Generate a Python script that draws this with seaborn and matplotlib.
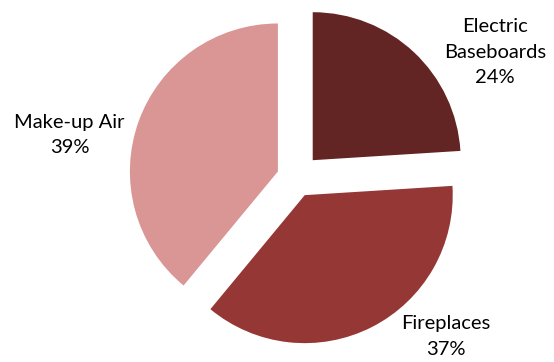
import matplotlib
matplotlib.use("Agg")
import matplotlib.pyplot as plt
import seaborn as sns

categories = ["Electric\nBaseboards", "Fireplaces", "Make-up Air"]
values = [24, 37, 39]
colors = ["#632523", "#953735", "#D99694"]
explode = [0.165, 0.13, 0.13]
label_pos = [(1.345, 0.85), (1.01, -1.07), (-1.53, 0.29)]

sns.set_style("white")
plt.rcParams["font.family"] = ["Lato", "DejaVu Sans"]

fig = plt.figure(figsize=(5.54, 3.62), dpi=100)
ax = fig.add_axes([0, 0, 1, 1])
ax.pie(values, colors=colors, explode=explode, startangle=90,
       counterclock=False, radius=1.0, wedgeprops=dict(linewidth=0))
for cat, v, (x, y) in zip(categories, values, label_pos):
    ax.text(x, y, f"{cat}\n{v}%", ha="center", va="center",
            fontsize=14.5, color="#000000", linespacing=1.6)
ax.set_xlim(-296 / 148, 258 / 148)
ax.set_ylim(-184 / 148, 178 / 148)
ax.set_aspect("equal")
ax.axis("off")
fig.savefig("out.png", dpi=100, facecolor="white")
